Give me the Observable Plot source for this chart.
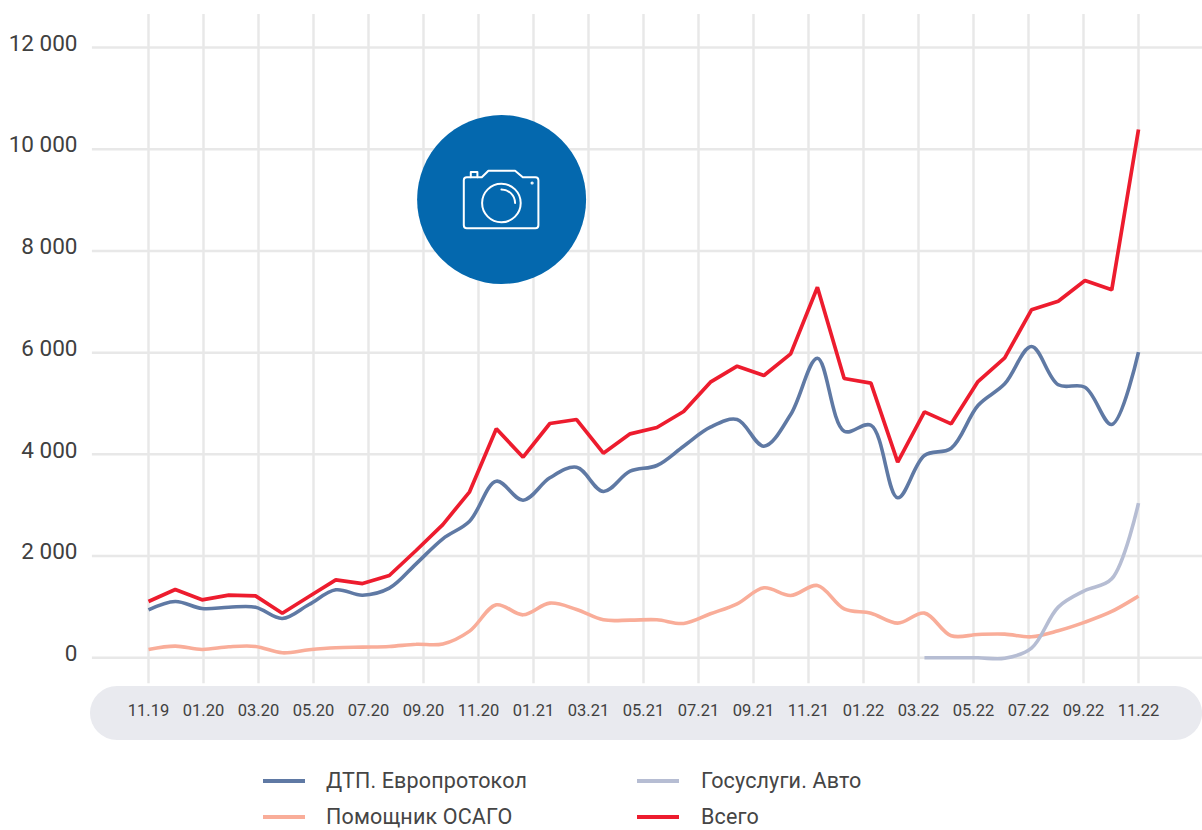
<!DOCTYPE html>
<html lang="ru">
<head>
<meta charset="utf-8">
<script src="https://cdn.jsdelivr.net/npm/d3@7"></script>
<script src="https://cdn.jsdelivr.net/npm/@observablehq/plot@0.6"></script>
<style>
html,body{margin:0;padding:0;background:#fff;overflow:hidden;width:1202px;height:830px}
#chart svg{display:block;background:transparent}
#legend{position:absolute;left:0;top:0;width:1202px;height:830px;pointer-events:none;font-family:Roboto,sans-serif;font-weight:400;font-size:21.5px;color:#454545}
.item{position:absolute;white-space:nowrap;line-height:17px;letter-spacing:.15px}
.swatch{position:absolute;width:42px;height:4px}
</style>
</head>
<body>
<div id="chart"></div>
<div id="legend"></div>
<script>
const tickLabels = ["11.19","01.20","03.20","05.20","07.20","09.20","11.20","01.21","03.21","05.21","07.21","09.21","11.21","01.22","03.22","05.22","07.22","09.22","11.22"];
const yTicks = [0,2000,4000,6000,8000,10000,12000];

const evroprotokol = [943,1107,969,995,995,773,1048,1337,1231,1369,1848,2340,2686,3472,3099,3539,3747,3270,3669,3781,4161,4534,4685,4161,4784,5891,4455,4573,3146,3978,4121,4961,5387,6121,5368,5320,4587,6010];
const pomoshnik = [164,229,164,216,223,98,157,197,210,223,265,272,525,1042,845,1075,950,747,740,747,675,865,1062,1376,1225,1422,963,878,682,878,433,459,465,413,531,701,911,1213];
const gosuslugi = [null,null,null,null,null,null,null,null,null,null,null,null,null,null,null,null,null,null,null,null,null,null,null,null,null,null,null,null,null,0,0,0,-10,190,997,1323,1553,3041];
const vsego = [1107,1343,1140,1231,1218,877,1205,1533,1460,1618,2110,2620,3264,4502,3945,4607,4685,4023,4403,4528,4843,5420,5734,5550,5976,7287,5492,5400,3846,4836,4600,5432,5898,6842,7012,7418,7235,10387];

const seriesNames = ["ДТП. Европротокол","Госуслуги. Авто","Помощник ОСАГО","Всего"];
const seriesColors = ["#5f79a4","#b6bdd3","#f9ad99","#ed1c2e"];

// 38 readings spread evenly across the 19 labelled positions
const slots = tickLabels.length - 1;
const pos = i => i * slots / (vsego.length - 1);
const rows = values => values.map((v,i) => ({x: pos(i), y: v})).filter(d => d.y !== null);

const fmt = d3.formatLocale({decimal:",",thousands:"\u00a0",grouping:[3],currency:["",""]}).format(",");
const tickIdx = d3.range(tickLabels.length);

const badge = [{x: 6.42, y: 9011}];

function cameraIcon(index, scales) {
  const g = d3.create("svg:g")
    .attr("transform", `translate(${scales.x(badge[0].x)},${scales.y(badge[0].y)})`)
    .attr("fill","none").attr("stroke","#fff").attr("stroke-width",2)
    .attr("stroke-linejoin","round").attr("stroke-linecap","round");
  g.append("path").attr("d","M-19.3,-21.7 L-12.7,-28.3 L14,-28.3 L21.7,-21.7 L34.3,-21.7 Q37.3,-21.7 37.3,-18.7 L37.3,26.3 Q37.3,29.3 34.3,29.3 L-34.3,29.3 Q-37.3,29.3 -37.3,26.3 L-37.3,-18.7 Q-37.3,-21.7 -34.3,-21.7 Z");
  g.append("path").attr("d","M-30.3,-21.7 L-30.3,-27 L-23.7,-27 L-23.7,-21.7");
  g.append("circle").attr("cx",0.3).attr("cy",4).attr("r",19.3);
  g.append("path").attr("d","M0.3,-9.6 A13.7,13.7 0 0 1 14,4");
  g.append("circle").attr("cx",31).attr("cy",-16).attr("r",0.6).attr("fill","#fff");
  return g.node();
}

const line = (values, color, curve, w) => Plot.line(rows(values), {x:"x", y:"y", stroke: color, strokeWidth: w, curve, strokeLinejoin:"miter", strokeLinecap:"butt"});

const chart = Plot.plot({
  width: 1202,
  height: 745,
  marginLeft: 148,
  marginRight: 64,
  marginTop: 47,
  marginBottom: 87.7,
  style: {background:"transparent", overflow:"visible"},
  x: {type:"linear", domain:[0,slots], axis:null},
  y: {type:"linear", domain:[0,12000], axis:null},
  marks: [
    Plot.rect([{}], {x1:-1.055, x2:19.165, y1:-564, y2:-1626, fill:"#e9eaef", rx:27}),
    Plot.ruleY(yTicks, {x1:-1.02, x2:19.2, stroke:"#e8e8e8", strokeWidth:2.5}),
    Plot.ruleX(tickIdx, {y1:-508, y2:12650, stroke:"#e8e8e8", strokeWidth:2.5}),
    Plot.dot(badge, {x:"x", y:"y", r:84.5, fill:"#0468ae"}),
    cameraIcon,
    line(evroprotokol, seriesColors[0], "catmull-rom", 3.6),
    line(pomoshnik, seriesColors[2], "catmull-rom", 3.6),
    line(gosuslugi, seriesColors[1], "catmull-rom", 3.6),
    line(vsego, seriesColors[3], "linear", 3.7),
    Plot.axisY({ticks:yTicks, tickSize:0, tickPadding:71, tickFormat:fmt, fontSize:22.5, fontWeight:400, fontFamily:"Roboto", fill:"#404040", dy:-4, label:null}),
    Plot.axisX({ticks:tickIdx, tickSize:0, tickPadding:46, tickFormat:i => tickLabels[i], fontSize:16.5, fontWeight:400, fontFamily:"Roboto", fill:"#404040", label:null})
  ]
});
document.getElementById("chart").append(chart);

const legend = document.getElementById("legend");
const spots = [[263,326,781],[637,701,781],[263,326,817],[637,701,817]];
seriesNames.forEach((name,i) => {
  const [sx,tx,cy] = spots[i];
  const s = document.createElement("div");
  s.className = "swatch";
  s.style.cssText = `left:${sx}px;top:${cy-2}px;background:${seriesColors[i]}`;
  const t = document.createElement("div");
  t.className = "item";
  t.style.cssText = `left:${tx}px;top:${cy-9}px`;
  t.textContent = name;
  legend.append(s,t);
});
</script>
</body>
</html>
